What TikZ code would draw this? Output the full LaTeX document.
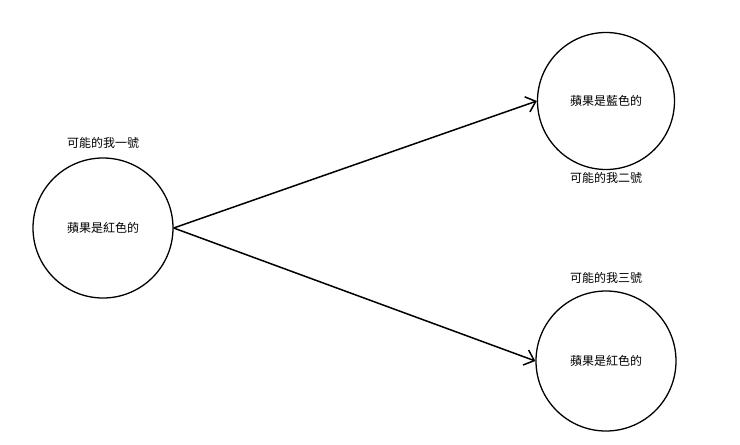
\documentclass[tikz,border=0pt]{standalone}
\usepackage{fontspec}
\usetikzlibrary{arrows.meta}
\newfontfamily\cjk{Noto Sans CJK TC}
\begin{document}
\begin{tikzpicture}[x=1pt,y=-1pt,
  circ/.style={draw,line width=1.3pt,circle,minimum size=140pt,inner sep=0pt,font=\cjk\fontsize{12}{14}\selectfont},
  lab/.style={font=\cjk\fontsize{12}{14}\selectfont},
  arr/.style={line width=1.5pt,-{Straight Barb[length=9pt,width=16pt]}}]
\useasboundingbox (0,0) rectangle (740,445);
\node[circ] (a) at (103,228) {蘋果是紅色的};
\node[circ,minimum size=137pt] (b) at (606,101) {蘋果是藍色的};
\node[circ] (c) at (606,361) {蘋果是紅色的};
\node[lab] (la) at (103,143) {可能的我一號};
\node[lab] (lb) at (606,178) {可能的我二號};
\node[lab] (lc) at (606,278) {可能的我三號};
\draw[arr] (a.east) -- (b.west);
\draw[arr] (a.east) -- (c.west);
\end{tikzpicture}
\end{document}
